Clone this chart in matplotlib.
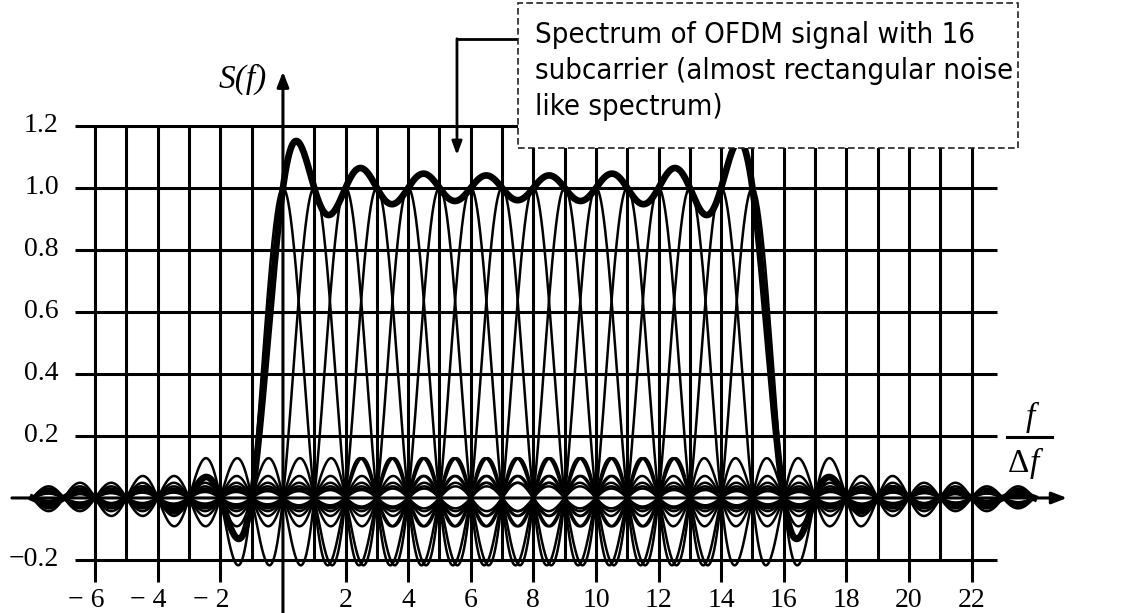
import numpy as np
import matplotlib.pyplot as plt
from matplotlib.patches import Rectangle

# --- Data ---
subcarriers = [0, 1, 2, 3, 4, 5, 6, 7, 8, 9, 10, 11, 12, 13, 14, 15]
x_ticks = [-6, -4, -2, 2, 4, 6, 8, 10, 12, 14, 16, 18, 20, 22]
x_grid = [-6, -5, -4, -3, -2, -1, 1, 2, 3, 4, 5, 6, 7, 8, 9, 10, 11,
          12, 13, 14, 15, 16, 17, 18, 19, 20, 21, 22]
y_ticks = [-0.2, 0.2, 0.4, 0.6, 0.8, 1.0, 1.2]
y_labels = ["\u22120.2", "0.2", "0.4", "0.6", "0.8", "1.0", "1.2"]
note = ("Spectrum of OFDM signal with 16\n"
        "subcarrier (almost rectangular noise\n"
        "like spectrum)")

# --- Figure: axes fill the whole canvas, drawn like a textbook diagram ---
fig = plt.figure(figsize=(11.39, 6.13), dpi=100)
ax = fig.add_axes([0, 0, 1, 1])
ax.set_xlim(-9.04, 27.35)
ax.set_ylim(-0.371, 1.606)
ax.axis("off")

serif = "Liberation Serif"
grid_lw = 2.2

# grid
ax.hlines(y_ticks, -6.65, 22.8, color="black", lw=grid_lw, zorder=1)
for xv in x_grid:
    bottom = -0.27 if xv in x_ticks else -0.2
    ax.vlines(xv, bottom, 1.2, color="black", lw=grid_lw, zorder=1)

# axes with arrows
ax.annotate("", xy=(25.05, 0), xytext=(-8.66, 0),
            arrowprops=dict(arrowstyle="-|>,head_length=0.9,head_width=0.35",
                            lw=2.2, color="black", shrinkA=0, shrinkB=0),
            zorder=2)
ax.annotate("", xy=(0, 1.375), xytext=(0, -0.371),
            arrowprops=dict(arrowstyle="-|>,head_length=0.9,head_width=0.35",
                            lw=2.2, color="black", shrinkA=0, shrinkB=0),
            zorder=2)

# subcarrier spectra and their sum
f = np.linspace(-8, 24, 4001)
total = np.zeros_like(f)
for k in subcarriers:
    s = np.sinc(f - k)
    total += s
    ax.plot(f, s, color="black", lw=1.8, zorder=3)
ax.plot(f, total, color="black", lw=4.8, zorder=4)

# tick labels
for v, lab in zip(y_ticks, y_labels):
    ax.text(-7.16, v, lab, ha="right", va="center", family=serif, fontsize=20)
for v in x_ticks:
    lab = str(v) if v > 0 else "\u2212 " + str(abs(v))
    xo = v if v > 0 else v - 0.3
    ax.text(xo, -0.33, lab, ha="center", va="center", family=serif, fontsize=20)

# axis names
ax.text(-1.28, 1.35, "S(f)", ha="center", va="center", family=serif,
        style="italic", fontsize=24)
ax.text(23.87, 0.26, "f", ha="center", va="center", family=serif,
        style="italic", fontsize=24)
ax.plot([23.13, 24.57], [0.197, 0.197], color="black", lw=2.2)
ax.text(23.85, 0.11, "\u0394", ha="right", va="center", family=serif,
        fontsize=24)
ax.text(23.85, 0.11, "f", ha="left", va="center", family=serif,
        style="italic", fontsize=24)

# note box with leader arrow
box = Rectangle((7.51, 1.129), 15.97, 0.468, facecolor="white",
                edgecolor="#222222", lw=1.2, linestyle=(0, (4, 2)), zorder=6)
ax.add_patch(box)
ax.text(8.05, 1.538, note, ha="left", va="top", fontsize=21,
        family="DejaVu Sans", stretch="condensed", linespacing=1.36, zorder=7)
ax.plot([7.51, 5.56], [1.481, 1.481], color="black", lw=2, zorder=5)
ax.annotate("", xy=(5.56, 1.106), xytext=(5.56, 1.481),
            arrowprops=dict(arrowstyle="-|>,head_length=0.8,head_width=0.3",
                            lw=2, color="black", shrinkA=0, shrinkB=0),
            zorder=5)

fig.savefig("out.png", dpi=100, facecolor="white")
